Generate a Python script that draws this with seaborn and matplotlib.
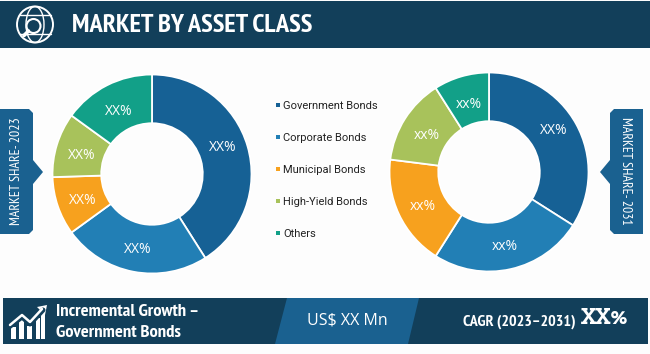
import math
import logging
import matplotlib
matplotlib.use("Agg")
import matplotlib.pyplot as plt
from matplotlib.patches import Polygon, Rectangle, Circle, Ellipse
import seaborn as sns

logging.getLogger("matplotlib.font_manager").setLevel(logging.ERROR)
sns.set_theme(style="white")
NARROW = ["PT Sans Narrow", "Roboto Condensed", "Liberation Sans Narrow", "Liberation Sans", "DejaVu Sans"]
plt.rcParams["font.family"] = ["Liberation Sans", "DejaVu Sans"]

categories = ["Government Bonds", "Corporate Bonds", "Municipal Bonds", "High-Yield Bonds", "Others"]
share_2023 = [41, 24, 9.5, 10.5, 15]
share_2031 = [34, 25, 18, 14, 9]
labels_2023 = ["XX%", "XX%", "XX%", "XX%", "XX%"]
labels_2031 = ["XX%", "xx%", "xx%", "xx%", "xx%"]
colors = ["#166195", "#227FB5", "#F7A11E", "#A8C25B", "#12A088"]
title = "MARKET BY ASSET CLASS"

W, H = 650, 354
NAVY, BLUE = "#123F5A", "#1A6190"
fig = plt.figure(figsize=(W / 100, H / 100), dpi=100, facecolor="#FDFDFD")
bg = fig.add_axes([0, 0, 1, 1])
bg.set_xlim(0, W); bg.set_ylim(H, 0); bg.axis("off")

# header and footer bands
bg.add_patch(Rectangle((0, 1), W, 47, color=NAVY, lw=0))
bg.add_patch(Rectangle((3, 298), 645, 46, color=NAVY, lw=0))
bg.add_patch(Polygon([(287, 298), (419, 298), (408, 344), (275, 344)], color=BLUE, lw=0))
bg.text(72, 25, title, color="white", fontsize=19, fontweight="bold", family=NARROW, va="center")
bg.text(56, 312, "Incremental Growth \u2013", color="white", fontsize=13.3, fontweight="bold", family=NARROW, va="center")
bg.text(56, 333, "Government Bonds", color="white", fontsize=13.3, fontweight="bold", family=NARROW, va="center")
bg.text(347, 321, "US$ XX Mn", color="white", fontsize=11.5, family=["Open Sans", "DejaVu Sans"], ha="center", va="center")
bg.text(463, 322, "CAGR (2023\u20132031)", color="white", fontsize=11.5, fontweight="bold", family=NARROW, va="center")
bg.text(581, 319, "XX%", color="white", fontsize=16.5, fontweight="bold", family=["Zilla Slab", "Liberation Serif"], va="center")

# globe icon
bg.add_patch(Ellipse((35, 24.5), 18, 36, fill=False, ec="white", lw=1.0))
bg.add_patch(Circle((35, 24.5), 18, fill=False, ec="white", lw=1.4))
for y, half in ((15, 15.5), (34, 15.5)):
    bg.plot([35 - half, 35 + half], [y, y], color="white", lw=1.0)
bg.add_patch(Circle((33.5, 26), 7, fc=NAVY, ec="white", lw=1.5, zorder=3))
bg.plot([28.5, 24], [31, 35.5], color="white", lw=2.6, zorder=3, solid_capstyle="round")

# growth icon
for x, top, wid in [(11, 327, 5), (19, 319, 5), (27, 326, 5), (36, 318, 4), (41, 312, 4)]:
    bg.add_patch(Rectangle((x, top), wid, 339 - top, color="white", lw=0))
bg.plot([9, 22, 30, 43], [327, 317, 324, 310], color=NAVY, lw=3.6)
bg.plot([10, 22, 30, 42], [325, 315, 322, 309], color="white", lw=1.8)
bg.add_patch(Polygon([(37, 307), (47, 305), (45, 315)], color="white", lw=0))

# side tabs
bg.add_patch(Polygon([(0, 109), (29, 109), (33, 113), (33, 160), (43, 172), (33, 184),
                      (33, 230), (29, 234), (0, 234)], color=BLUE, lw=0))
bg.add_patch(Polygon([(643, 109), (614, 109), (610, 113), (610, 160), (600, 172), (610, 184),
                      (610, 230), (614, 234), (643, 234)], color=BLUE, lw=0))
bg.text(17, 171, "MARKET SHARE- 2023", color="white", fontsize=10, family=NARROW,
        rotation=90, ha="center", va="center")
bg.text(625, 171, "MARKET SHARE- 2031", color="white", fontsize=10, family=NARROW,
        rotation=270, ha="center", va="center")

# legend
for i, (name, col) in enumerate(zip(categories, colors)):
    y = 105 + i * 32
    bg.add_patch(Rectangle((275.5, y - 2), 4, 4, color=col, lw=0))
    bg.text(283, y + 1, name, color="#222222", fontsize=8, family=["Roboto", "DejaVu Sans"], va="center")


def donut(values, labels, cx, cy, r=99.5):
    ax = fig.add_axes([(cx - r) / W, 1 - (cy + r) / H, 2 * r / W, 2 * r / H])
    ax.pie(values, colors=colors, startangle=90, counterclock=False, radius=1,
           wedgeprops=dict(width=0.49, edgecolor="white", linewidth=1.3))
    total = sum(values)
    cum = 0
    for i, (v, lab) in enumerate(zip(values, labels)):
        a = math.radians(90 - (cum + v / 2) / total * 360)
        # the reference sets its labels slightly off the slice centres
        shift = 0.06 if i == 0 else -0.03
        ax.text(0.74 * math.cos(a), 0.74 * math.sin(a) + shift, lab, ha="center", va="center",
                fontsize=10, color="white", family=["Open Sans", "DejaVu Sans"])
        cum += v
    ax.set_xlim(-1, 1); ax.set_ylim(-1, 1)


donut(share_2023, labels_2023, 152, 174)
donut(share_2031, labels_2031, 489, 172)

fig.savefig("out.png", dpi=100, facecolor=fig.get_facecolor())
